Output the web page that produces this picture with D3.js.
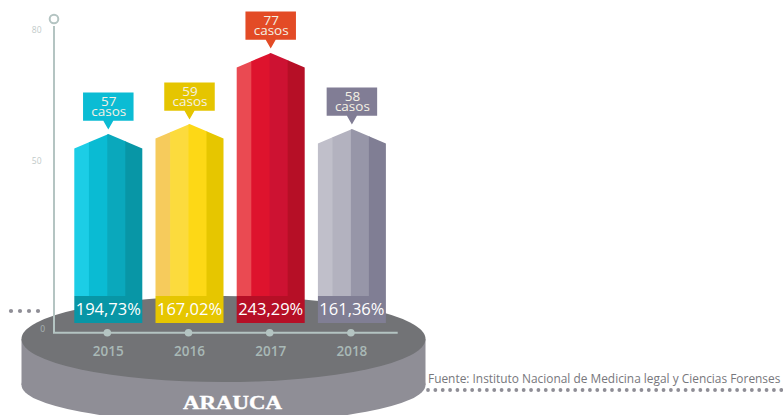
<!DOCTYPE html>
<html>
<head>
<meta charset="utf-8">
<script src="https://cdn.jsdelivr.net/npm/d3@7"></script>
<style>
html, body { margin: 0; padding: 0; background: #fff; overflow: hidden; }
svg { display: block; }
text { font-family: "Open Sans", sans-serif; }
</style>
</head>
<body>
<script>
const years = ["2015", "2016", "2017", "2018"];
const casos = [57, 59, 77, 58];
const tasas = ["194,73%", "167,02%", "243,29%", "161,36%"];
const yTicks = [0, 50, 80];
const departamento = "ARAUCA";
const fuente = "Fuente: Instituto Nacional de Medicina legal y Ciencias Forenses";

// colores de cada franja de la barra, de izquierda a derecha
const stripes = [
  ["#1ccde6", "#0abbd3", "#0aa8bc", "#0896a6"],
  ["#f6cb5c", "#fcdb3d", "#fdd816", "#e6c600"],
  ["#ea4a52", "#de132d", "#cd1232", "#b60f26"],
  ["#c0bfca", "#b3b2bf", "#9796a8", "#807e94"]
];
const calloutColor = ["#0bbcd4", "#e5c500", "#e34b26", "#817d95"];

const W = 783, H = 415;
const svg = d3.select("body").append("svg").attr("width", W).attr("height", H);

// the picture's axis is not linear, so the scale has several segments
const y = d3.scaleLinear().domain([0, 50, 57, 59, 77, 80]).range([329, 161, 134, 124, 53, 30]);
const x = d3.scalePoint().domain(years).range([108.3, 351.9]);

const barW = 68, shoulder = 14.5, stripeEnd = 296, barEnd = 323;
const stripeStops = [0, 0.215, 0.485, 0.75, 1];

// base
const discCx = 223.5, discRx = 202, discRy = 43;
svg.append("ellipse").attr("cx", discCx).attr("cy", 385).attr("rx", discRx).attr("ry", 38).attr("fill", "#8f8e96");
svg.append("rect").attr("x", discCx - discRx).attr("y", 339).attr("width", discRx * 2).attr("height", 46).attr("fill", "#8f8e96");
svg.append("ellipse").attr("cx", discCx).attr("cy", 339).attr("rx", discRx).attr("ry", discRy).attr("fill", "#727376");

svg.append("text").attr("x", 183).attr("y", 409)
  .attr("textLength", 99).attr("lengthAdjust", "spacingAndGlyphs")
  .style("font-family", "'Liberation Serif', serif").style("font-weight", 700)
  .style("font-size", "18.5px").attr("fill", "#fff").attr("stroke", "#fff").attr("stroke-width", 0.4)
  .text(departamento);

// puntos
const leftDots = d3.range(4);
svg.selectAll(".dotL").data(leftDots).enter().append("circle")
  .attr("cx", d => 11 + d * 9).attr("cy", 311).attr("r", 2.1).attr("fill", "#8f8e96");
const rightDots = d3.range(49);
svg.selectAll(".dotR").data(rightDots).enter().append("circle")
  .attr("cx", d => 428 + d * 7.36).attr("cy", 390).attr("r", 1.9).attr("fill", "#8f8e96");

svg.append("text").attr("x", 428).attr("y", 382.5).style("font-size", "11.9px").attr("fill", "#77777c").text(fuente);

// ejes
svg.append("path").attr("d", "M54,26V332.7H397.7").attr("fill", "none").attr("stroke", "#b4c4c2").attr("stroke-width", 2);
svg.append("circle").attr("cx", 54).attr("cy", 19).attr("r", 4.3).attr("fill", "#fff").attr("stroke", "#b4c4c2").attr("stroke-width", 2);

svg.selectAll(".ytick").data(yTicks).enter().append("text")
  .attr("x", d => d === 0 ? 45 : 41.5).attr("y", d => y(d) + 3).attr("text-anchor", "end")
  .style("font-size", "8.5px").attr("fill", d => d === 0 ? "#a8b4b3" : "#bfcac9").text(d => d);

svg.selectAll(".xdot").data(years).enter().append("circle")
  .attr("cx", d => x(d) - 1).attr("cy", 332.7).attr("r", 3.8).attr("fill", "#b4c4c2");
svg.selectAll(".xlabel").data(years).enter().append("text")
  .attr("x", d => x(d)).attr("y", 355.5).attr("text-anchor", "middle")
  .style("font-size", "13.5px").style("font-weight", 600).attr("fill", "#a9b9b6").text(d => d);

// barras
const bars = svg.selectAll(".bar").data(years).enter().append("g").attr("class", "bar");

bars.each(function (year, i) {
  const g = d3.select(this);
  const cx = x(year);
  const left = cx - barW / 2;
  const apex = y(casos[i]);
  const roof = px => apex + shoulder * Math.abs(px - cx) / (barW / 2);

  // each stripe goes a little under the next one so no seam shows
  g.selectAll("path").data(stripes[i]).enter().append("path")
    .attr("fill", d => d)
    .attr("d", (d, k) => {
      const a = left + barW * stripeStops[k];
      const b = left + barW * stripeStops[k + 1] + (k < 3 ? 0.7 : 0);
      const pts = [[a, stripeEnd], [a, roof(a)]];
      if (a < cx && b > cx) pts.push([cx, apex]);
      pts.push([b, roof(b)], [b, stripeEnd]);
      return "M" + pts.join("L") + "Z";
    });

  g.append("rect").attr("x", left).attr("y", stripeEnd).attr("width", barW).attr("height", barEnd - stripeEnd)
    .attr("fill", stripes[i][3]);
  g.append("text").attr("x", cx).attr("y", 315).attr("text-anchor", "middle")
    .style("font-size", "16.5px").attr("fill", "#fff").text(tasas[i]);

  // etiqueta de casos
  const top = apex - 41.6, boxW = 50.5, boxH = 28.3;
  g.append("path")
    .attr("d", "M" + [[cx - boxW / 2, top], [cx + boxW / 2, top], [cx + boxW / 2, top + boxH], [cx + 5, top + boxH],
      [cx, top + 37], [cx - 5, top + boxH], [cx - boxW / 2, top + boxH]].join("L") + "Z")
    .attr("fill", calloutColor[i]);
  g.append("text").attr("x", cx + 0.5).attr("y", top + 13.5).attr("text-anchor", "middle")
    .style("font-size", "13.5px").attr("fill", "#f4f1e4").text(casos[i]);
  g.append("text").attr("x", cx + 0.5).attr("y", top + 24).attr("text-anchor", "middle")
    .style("font-size", "13.5px").attr("fill", "#f4f1e4").text("casos");
});
</script>
</body>
</html>
